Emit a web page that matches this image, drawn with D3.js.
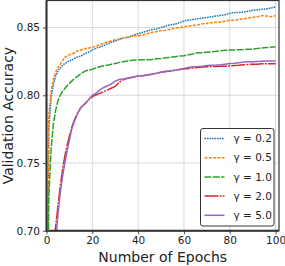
<!DOCTYPE html>
<html>
<head>
<meta charset="utf-8">
<script src="https://cdn.jsdelivr.net/npm/d3@7"></script>
<style>
  html, body { margin: 0; padding: 0; background: #fff; }
  svg { display: block; font-family: "DejaVu Sans", sans-serif; }
</style>
</head>
<body>
<div id="chart"></div>
<script>
// epochs sampled every epoch up to 20, then every 2
const epochs = [0,1,2,3,4,5,6,7,8,9,10,11,12,13,14,15,16,17,18,19,20,
  22,24,26,28,30,32,34,36,38,40,42,44,46,48,50,52,54,56,58,60,
  62,64,66,68,70,72,74,76,78,80,82,84,86,88,90,92,94,96,98,100];

const gamma02 = [0.50,0.775,0.798,0.808,0.814,0.818,0.820,0.822,0.8235,0.8245,0.8255,0.826,0.827,0.828,0.8285,0.829,0.830,0.831,0.8315,0.8325,0.8335,
  0.835,0.836,0.8375,0.839,0.840,0.8415,0.8425,0.843,0.8445,0.8455,0.8465,0.8475,0.8485,0.849,0.850,0.851,0.852,0.8525,0.8535,0.855,
  0.8555,0.856,0.8565,0.857,0.8575,0.858,0.8585,0.859,0.8595,0.8605,0.861,0.8612,0.8615,0.862,0.8628,0.863,0.8635,0.8638,0.8645,0.8652];

const gamma05 = [0.50,0.785,0.803,0.812,0.817,0.8205,0.823,0.8255,0.828,0.829,0.830,0.8305,0.831,0.8325,0.833,0.8335,0.834,0.8345,0.835,0.835,0.8355,
  0.8365,0.8378,0.839,0.840,0.841,0.8415,0.8425,0.843,0.8438,0.844,0.8445,0.8455,0.8465,0.847,0.8478,0.848,0.8488,0.8495,0.850,0.8505,
  0.8512,0.8515,0.852,0.8528,0.853,0.8535,0.854,0.854,0.8548,0.8554,0.8555,0.856,0.8565,0.857,0.8575,0.858,0.8588,0.8585,0.858,0.8588];

const gamma10 = [0.45,0.725,0.760,0.779,0.789,0.796,0.800,0.803,0.805,0.807,0.809,0.8105,0.812,0.8135,0.8145,0.816,0.817,0.818,0.8185,0.8188,0.8192,
  0.8205,0.8215,0.822,0.8228,0.8235,0.8243,0.825,0.8255,0.826,0.826,0.8262,0.8262,0.8265,0.827,0.8272,0.8278,0.828,0.8285,0.829,0.8292,
  0.830,0.8305,0.8315,0.8315,0.8318,0.832,0.8325,0.8328,0.8332,0.8334,0.8335,0.8337,0.8338,0.834,0.8341,0.8345,0.835,0.8352,0.8355,0.8358];

const gamma20 = [0.60,0.63,0.66,0.685,0.703,0.718,0.733,0.745,0.755,0.763,0.770,0.776,0.781,0.785,0.788,0.791,0.7925,0.794,0.796,0.7975,0.799,
  0.8005,0.802,0.8035,0.805,0.8065,0.810,0.812,0.8128,0.8135,0.8143,0.8145,0.815,0.8155,0.8162,0.817,0.8175,0.818,0.8185,0.819,0.8195,
  0.8198,0.8202,0.8205,0.8208,0.821,0.8212,0.8212,0.8215,0.8215,0.8218,0.822,0.8222,0.8225,0.8228,0.823,0.823,0.8232,0.8232,0.8233,0.8233];

const gamma50 = [0.58,0.61,0.64,0.67,0.692,0.712,0.728,0.740,0.750,0.759,0.767,0.775,0.780,0.784,0.788,0.791,0.7925,0.7945,0.796,0.798,0.800,
  0.802,0.805,0.8065,0.808,0.8105,0.8118,0.812,0.8128,0.8135,0.8143,0.8145,0.815,0.8155,0.8162,0.817,0.8175,0.818,0.8185,0.819,0.8198,
  0.8205,0.821,0.8212,0.8215,0.822,0.8222,0.8223,0.8225,0.823,0.8235,0.8237,0.824,0.8245,0.8248,0.8248,0.825,0.8252,0.8253,0.8253,0.8253];

const seriesLabels = ['γ = 0.2', 'γ = 0.5', 'γ = 1.0', 'γ = 2.0', 'γ = 5.0'];
const xTicks = [0, 20, 40, 60, 80, 100];
const yTicks = [0.70, 0.75, 0.80, 0.85];

const styles = [
  { color: '#1f77b4', dash: '1.6,0.9' },
  { color: '#ff7f0e', dash: '3,1.3' },
  { color: '#2ca02c', dash: '7,1.3' },
  { color: '#d62728', dash: '14,1.2,2,1.2' },
  { color: '#9467bd', dash: null }
];

const allSeries = [gamma02, gamma05, gamma10, gamma20, gamma50].map((vals, i) => ({
  label: seriesLabels[i],
  values: vals.map((v, j) => ({ x: epochs[j], y: v })),
  style: styles[i]
}));

const width = 285, height = 266;
const plot = { left: 46.5, right: 279, top: 0.5, bottom: 230.7 };

const svg = d3.select('#chart').append('svg')
  .attr('width', width)
  .attr('height', height);

const x = d3.scaleLinear().domain([0, 101.5]).range([plot.left, plot.right]);
const y = d3.scaleLinear().domain([0.70, 0.87]).range([plot.bottom, plot.top]);

// grid
const grid = svg.append('g').attr('stroke', '#d0d0d0').attr('stroke-width', 0.8);
grid.selectAll('.gx').data(xTicks).join('line')
  .attr('x1', d => x(d)).attr('x2', d => x(d))
  .attr('y1', plot.top).attr('y2', plot.bottom);
grid.selectAll('.gy').data(yTicks).join('line')
  .attr('x1', plot.left).attr('x2', plot.right)
  .attr('y1', d => y(d)).attr('y2', d => y(d));

// clip for curves
svg.append('clipPath').attr('id', 'clip')
  .append('rect')
  .attr('x', plot.left).attr('y', plot.top)
  .attr('width', plot.right - plot.left).attr('height', plot.bottom - plot.top);

const line = d3.line().x(d => x(d.x)).y(d => y(d.y));

svg.append('g').attr('clip-path', 'url(#clip)')
  .selectAll('path')
  .data(allSeries)
  .join('path')
  .attr('fill', 'none')
  .attr('stroke', d => d.style.color)
  .attr('stroke-width', 1.5)
  .attr('stroke-dasharray', d => d.style.dash)
  .attr('d', d => line(d.values));

// axes
const xAxis = svg.append('g')
  .attr('transform', `translate(0,${plot.bottom})`)
  .call(d3.axisBottom(x).tickValues(xTicks).tickFormat(d3.format('d')).tickSize(3.5).tickPadding(2.5));
const yAxis = svg.append('g')
  .attr('transform', `translate(${plot.left},0)`)
  .call(d3.axisLeft(y).tickValues(yTicks).tickFormat(d3.format('.2f')).tickSize(3.5).tickPadding(3));
[xAxis, yAxis].forEach(a => {
  a.select('.domain').remove();
  a.selectAll('.tick line').attr('stroke', '#333').attr('stroke-width', 0.9);
  a.selectAll('.tick text').attr('fill', '#222').style('font-size', '10.5px').style('font-family', '"DejaVu Sans", sans-serif');
});

// frame
svg.append('rect')
  .attr('x', plot.left).attr('y', plot.top)
  .attr('width', plot.right - plot.left).attr('height', plot.bottom - plot.top)
  .attr('fill', 'none').attr('stroke', '#333').attr('stroke-width', 1.2);
svg.append('path')
  .attr('d', `M${plot.left},${plot.top}V${plot.bottom}H${plot.right}`)
  .attr('fill', 'none').attr('stroke', '#333').attr('stroke-width', 2);

// axis titles
svg.append('text')
  .attr('x', (plot.left + plot.right) / 2).attr('y', 262)
  .attr('text-anchor', 'middle').attr('fill', '#222')
  .style('font-size', '14px')
  .text('Number of Epochs');
svg.append('text')
  .attr('transform', `translate(12.5,${(plot.top + plot.bottom) / 2}) rotate(-90)`)
  .attr('text-anchor', 'middle').attr('fill', '#222')
  .style('font-size', '14px')
  .text('Validation Accuracy');

// legend
const legend = svg.append('g').attr('transform', 'translate(200.5,128.5)');
legend.append('rect')
  .attr('width', 73.5).attr('height', 97.5).attr('rx', 2.5)
  .attr('fill', '#fff').attr('fill-opacity', 0.9)
  .attr('stroke', '#333').attr('stroke-width', 1);
const items = legend.selectAll('.item').data(allSeries).join('g')
  .attr('transform', (d, i) => `translate(0,${10 + i * 19.2})`);
items.append('line')
  .attr('x1', 4).attr('x2', 24)
  .attr('stroke', d => d.style.color).attr('stroke-width', 1.5)
  .attr('stroke-dasharray', d => d.style.dash);
items.append('text')
  .attr('x', 33).attr('dy', '0.35em')
  .attr('fill', '#222').style('font-size', '10.5px')
  .text(d => d.label);
</script>
</body>
</html>
